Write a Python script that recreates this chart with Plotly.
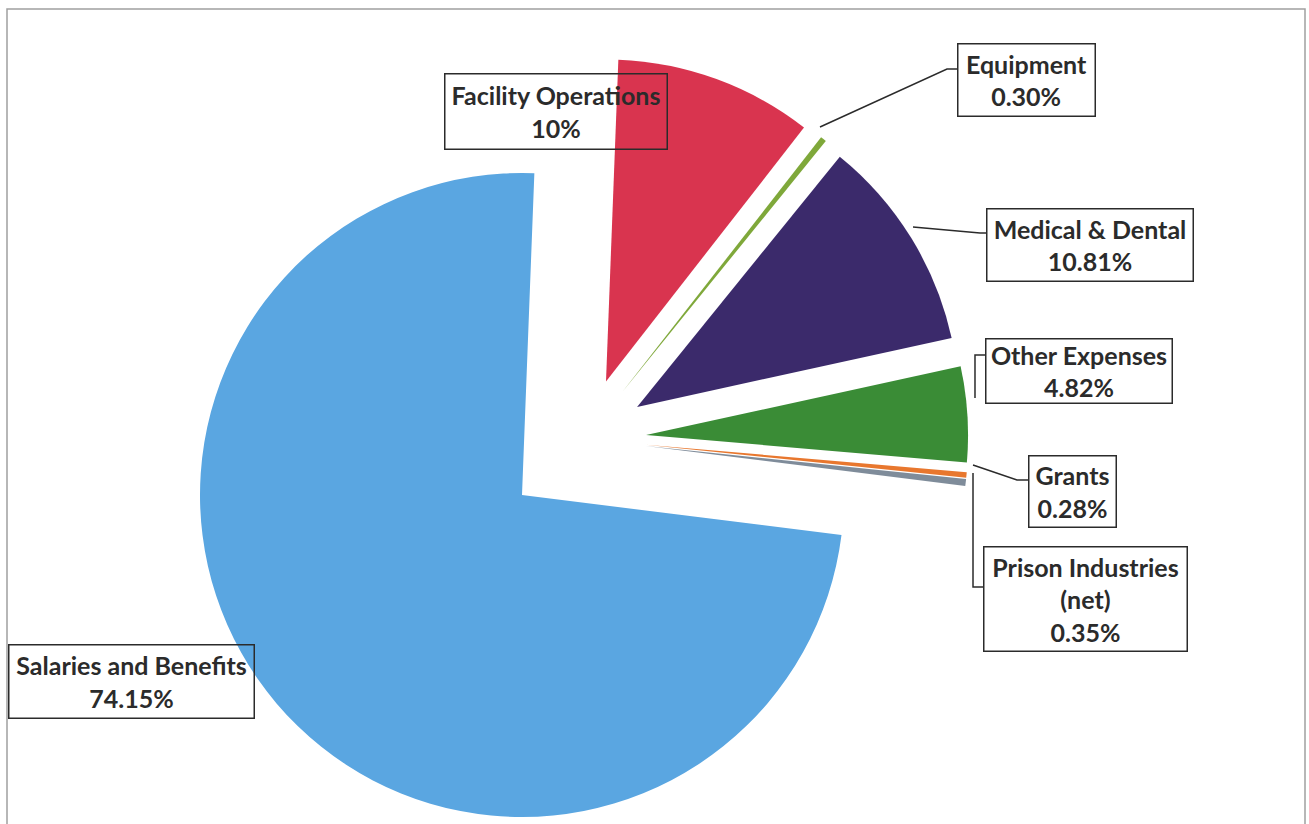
import plotly.graph_objects as go

W, H = 1309, 824

# ---- data ----
labels = ["Facility Operations", "Equipment", "Medical & Dental", "Other Expenses",
          "Grants", "Prison Industries (net)", "Salaries and Benefits"]
values = [10.0, 0.30, 10.81, 4.82, 0.28, 0.35, 74.15]
pct_text = ["10%", "0.30%", "10.81%", "4.82%", "0.28%", "0.35%", "74.15%"]
box_text = ["Facility Operations", "Equipment", "Medical & Dental", "Other Expenses",
            "Grants", "Prison Industries<br>(net)", "Salaries and Benefits"]
colors = ["#D9344F", "#7FA83A", "#3B2A6B", "#3A8C36", "#E8772E", "#7F8C9A", "#5AA6E1"]

CLEAR = "rgba(0,0,0,0)"


def fx(x):
    return x / W


def fy(y):
    return 1 - y / H


R = 322
ROT = 2.2

# main slice (Salaries) centred at its own apex
cxA, cyA = 522, 495
colA = [CLEAR] * 6 + [colors[6]]
# small exploded slices
cxB, cyB = 585, 439
PULL = 0.19
colB = colors[:6] + [CLEAR]
pullB = [PULL] * 6 + [0]
halfB = R * (1 + PULL)

fig = go.Figure()
fig.add_trace(go.Pie(
    labels=labels, values=values, sort=False, direction="clockwise", rotation=ROT,
    marker=dict(colors=colA, line=dict(width=0)), textinfo="none", hoverinfo="skip",
    showlegend=False,
    domain=dict(x=[fx(cxA - R), fx(cxA + R)], y=[fy(cyA + R), fy(cyA - R)]),
))
fig.add_trace(go.Pie(
    labels=labels, values=values, sort=False, direction="clockwise", rotation=ROT,
    pull=pullB,
    marker=dict(colors=colB, line=dict(width=0)), textinfo="none", hoverinfo="skip",
    showlegend=False,
    domain=dict(x=[fx(cxB - halfB), fx(cxB + halfB)], y=[fy(cyB + halfB), fy(cyB - halfB)]),
))

# label boxes: (x0, y0, x1, y1) in pixels
boxes = [
    (444, 73, 668, 150),
    (957, 43, 1096, 117),
    (986, 208, 1194, 282),
    (985, 338, 1173, 404),
    (1028, 455, 1117, 528),
    (983, 546, 1188, 652),
    (8, 644, 255, 719),
]
for t, p, (x0, y0, x1, y1) in zip(box_text, pct_text, boxes):
    fig.add_annotation(
        x=fx((x0 + x1) / 2), y=fy((y0 + y1) / 2), xref="paper", yref="paper",
        xanchor="center", yanchor="middle", showarrow=False,
        text=f"<b>{t}<br>{p}</b>", align="center",
        font=dict(family="Lato", size=25, color="#2b2b2b"),
        width=x1 - x0 - 3, height=y1 - y0 - 3, borderpad=0,
        bordercolor="#2b2b2b", borderwidth=1.5, bgcolor=CLEAR,
    )

# leader lines
leaders = [
    [(820, 127), (947, 69), (957, 69)],
    [(913, 227), (980, 233), (986, 233)],
    [(975, 398), (975, 355), (985, 355)],
    [(973, 465), (1017, 480), (1028, 480)],
    [(973, 473), (973, 587), (983, 587)],
]
for pts in leaders:
    path = "M " + " L ".join(f"{fx(x):.5f},{fy(y):.5f}" for x, y in pts)
    fig.add_shape(type="path", path=path, xref="paper", yref="paper",
                  line=dict(color="#2b2b2b", width=1.5))

# outer chart border
fig.add_shape(type="rect", xref="paper", yref="paper",
              x0=fx(7), x1=fx(1305), y0=fy(840), y1=fy(9),
              line=dict(color="#a0a0a0", width=1.5), fillcolor=CLEAR, layer="below")

fig.update_layout(
    width=W, height=H, margin=dict(l=0, r=0, t=0, b=0),
    paper_bgcolor="white", plot_bgcolor="white", showlegend=False,
)

fig.write_html("out.html", config={"displayModeBar": False},
               post_script="document.body.style.margin='0';document.body.style.overflow='hidden';")
